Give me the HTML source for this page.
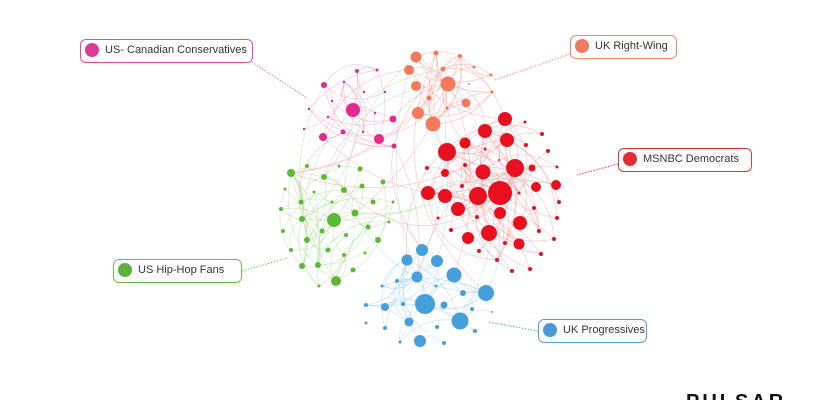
<!DOCTYPE html>
<html><head><meta charset="utf-8"><style>
html,body{margin:0;padding:0;background:#fff;width:840px;height:400px;overflow:hidden;position:relative;font-family:"Liberation Sans",sans-serif}
.lb{position:absolute;box-sizing:border-box;height:24px;border:1.5px solid;border-radius:6px;background:#fff;font-size:11px;color:#333;line-height:21px;padding-left:24px;white-space:nowrap}
.lb i{position:absolute;left:4px;top:3px;width:14px;height:14px;border-radius:50%}
svg{position:absolute;left:0;top:0}
.brand{position:absolute;left:686px;top:391px;font-size:20px;font-weight:bold;letter-spacing:3px;color:#111}
</style></head><body>
<svg id="s" width="840" height="400"></svg>
<div class="lb" style="left:80px;top:39px;width:173px;border-color:#e04ca0"><i style="background:#dc3a96"></i>US- Canadian Conservatives</div>
<div class="lb" style="left:570px;top:35px;width:107px;border-color:#f0846c"><i style="background:#f07a5e"></i>UK Right-Wing</div>
<div class="lb" style="left:618px;top:148px;width:134px;border-color:#e2383c"><i style="background:#df2f2f"></i>MSNBC Democrats</div>
<div class="lb" style="left:113px;top:259px;width:129px;border-color:#6cbd4e"><i style="background:#5cb23c"></i>US Hip-Hop Fans</div>
<div class="lb" style="left:538px;top:319px;width:109px;border-color:#5a9fd4"><i style="background:#4a98d8"></i>UK Progressives</div>
<div class="brand">PULSAR</div>
<script>
var C={o:"#f4785a",m:"#e3288e",r:"#e8101e",g:"#5bb934",b:"#449fda"};
var E={o:"#f4a5a0",m:"#f0a0cc",r:"#f4a0a0",g:"#b4dca0",b:"#a8d0f0"};
var N={o:[[416,57,5.5],[436,53,2.5],[460,56,2],[409,70,5],[416,86,5],[448,84,7.5],[443,69,2.5],[429,98,2.5],[418,113,6],[433,124,7.5],[466,103,4.5],[447,108,1.5],[474,67,1.5],[491,75,1.5],[492,92,1.5],[469,84,1]],
m:[[353,110,7],[379,139,5],[393,119,3.5],[394,146,2.5],[323,137,4],[324,85,3],[357,71,2],[343,132,2.5],[377,70,1.5],[344,82,1.2],[364,92,1.2],[332,101,1.2],[328,117,1.2],[309,109,1.2],[304,129,1.2],[385,92,1.2],[375,113,1.2],[363,132,1.2]],
r:[[500,193,12],[478,196,9],[515,168,9],[447,152,9],[485,131,7],[505,119,7],[507,140,7],[465,143,5.5],[483,172,7.5],[428,193,7],[445,196,7],[458,209,7],[500,213,6],[520,223,7],[489,233,8],[468,238,6],[519,244,5.5],[536,187,5],[556,185,5],[532,168,3.5],[445,173,4],[485,149,1.5],[465,165,2],[427,168,2],[462,186,2],[526,145,2],[542,134,2],[548,151,2],[557,167,1.5],[559,202,2],[534,208,2],[557,218,2],[539,231,2],[554,239,2],[541,254,2],[530,269,2],[512,271,2],[497,260,2],[479,251,2],[505,243,2],[451,230,2],[477,217,2],[438,218,1.5],[519,193,1.5],[525,122,1.5],[499,160,1]],
g:[[334,220,7],[291,173,4],[324,177,3],[344,190,3],[355,213,3.5],[302,219,3],[307,240,3],[336,281,5],[302,266,3],[318,265,3],[378,240,3],[353,270,2.5],[328,250,2.5],[322,231,2.5],[301,202,2.5],[281,209,2],[283,231,2],[291,250,2],[307,166,2],[360,169,2.5],[362,186,2.5],[383,182,2.5],[373,202,2.5],[368,227,2.5],[346,235,2],[344,255,2],[314,192,1.5],[332,202,1.5],[339,166,1.5],[285,189,1.5],[393,202,1.5],[389,222,1.5],[365,253,1.5],[319,286,1.5]],
b:[[425,304,10],[460,321,8.5],[486,293,8],[454,275,7.5],[422,250,6],[437,261,6],[407,260,5.5],[417,277,5.5],[420,341,6],[409,322,4.5],[385,307,4],[444,305,3.5],[463,293,3],[472,309,2],[475,331,2],[437,327,2],[444,343,2],[397,281,2],[436,286,1.5],[403,304,2],[366,305,2],[366,323,1.5],[385,328,2],[400,342,1.5],[382,286,1.5],[492,312,1]]};
var seed=7;function R(){seed=(seed*16807)%2147483647;return seed/2147483647;}
var s='';
function edge(a,b,col){var mx=(a[0]+b[0])/2,my=(a[1]+b[1])/2,dx=b[0]-a[0],dy=b[1]-a[1],k=(R()<0.5?-1:1)*(0.15+R()*0.3);
s+='<path d="M'+a[0]+' '+a[1]+'Q'+(mx-dy*k)+' '+(my+dx*k)+' '+b[0]+' '+b[1]+'" fill="none" stroke="'+col+'" stroke-width="0.7" opacity="0.6"/>';}
for(var k in N){var L=N[k];for(var i=0;i<L.length*1.6;i++){var a=L[Math.floor(R()*L.length)],b=L[Math.floor(R()*Math.min(10,L.length))];if(a!==b)edge(a,b,E[k]);}}
var ks=Object.keys(N);for(var i=0;i<40;i++){var k1=ks[Math.floor(R()*5)],k2=ks[Math.floor(R()*5)];if(k1==k2)continue;var a=N[k1][Math.floor(R()*8)],b=N[k2][Math.floor(R()*8)];edge(a,b,E[k1]);}
s+='<g stroke-dasharray="1.5 1.5" stroke-width="1"><line x1="252" y1="62" x2="307" y2="98" stroke="#e86aae"/><line x1="570" y1="54" x2="495" y2="80" stroke="#f0846c"/><line x1="618" y1="164" x2="577" y2="175" stroke="#e2383c"/><line x1="242" y1="271" x2="287" y2="258" stroke="#6cbd4e"/><line x1="538" y1="331" x2="488" y2="322" stroke="#5a9fd4"/></g>';
for(var k in N)N[k].forEach(function(n){s+='<circle cx="'+n[0]+'" cy="'+n[1]+'" r="'+n[2]+'" fill="'+C[k]+'"/>';});
document.getElementById('s').innerHTML=s;
</script>
</body></html>
